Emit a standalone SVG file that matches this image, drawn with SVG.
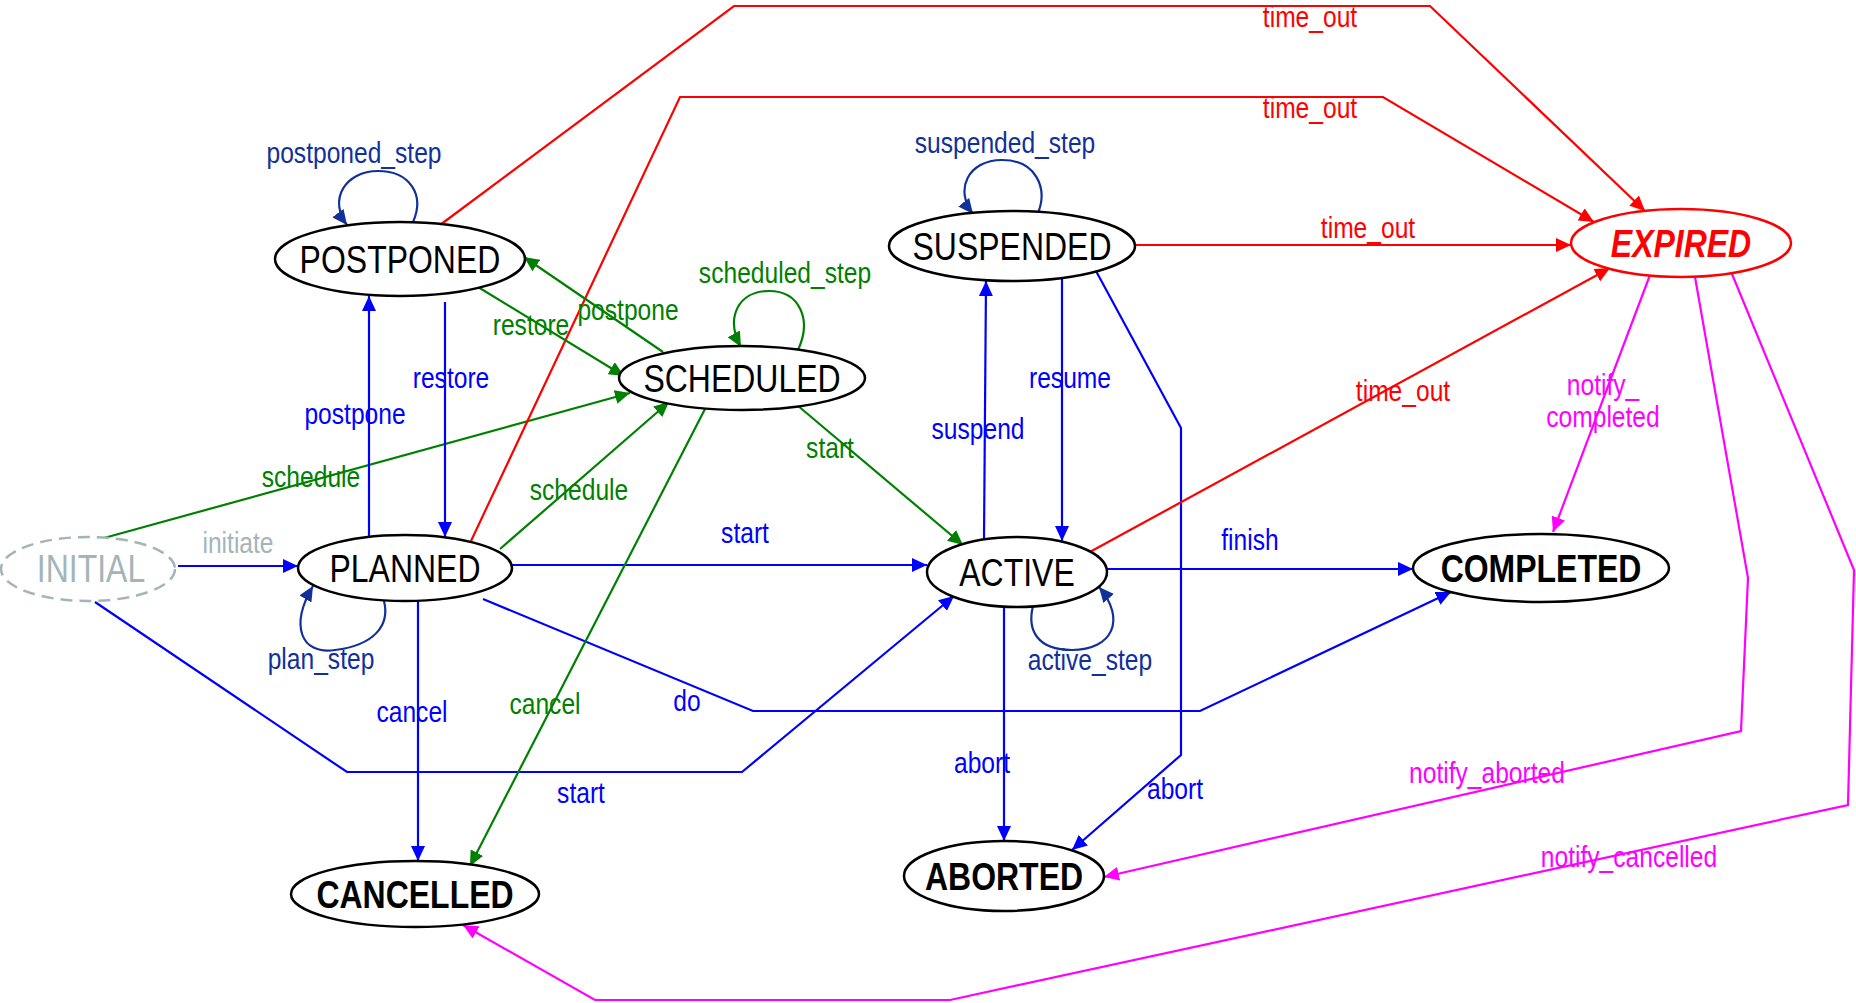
<svg xmlns="http://www.w3.org/2000/svg" width="1856" height="1003" viewBox="0 0 1856 1003">
<style>
.n ellipse{fill:#fff;stroke:#000;stroke-width:2.5}
.n text{font-family:"Liberation Sans",Arial,sans-serif;font-size:39px;text-anchor:middle;fill:#000}
.n text.bd{font-weight:bold}
.e path{fill:none;stroke-width:2.2}
.lb{font-family:"Liberation Sans",Arial,sans-serif;font-size:30px;text-anchor:middle}
.cb{stroke:#0000ff}.tb{fill:#0000ff}
.cg{stroke:#008000}.tg{fill:#008000}
.cr{stroke:#ff0000}.tr{fill:#ff0000}
.cm{stroke:#ff00ff}.tm{fill:#ff00ff}
.cn{stroke:#12309a}.tn{fill:#12309a}
.tgy{fill:#a3b5b8}
</style>
<defs>
<marker id="ab" viewBox="0 0 15 14" refX="15" refY="7" markerWidth="15" markerHeight="14" markerUnits="userSpaceOnUse" orient="auto"><path d="M0,0 L15,7 L0,14 z" fill="#0000ff"/></marker>
<marker id="ag" viewBox="0 0 15 14" refX="15" refY="7" markerWidth="15" markerHeight="14" markerUnits="userSpaceOnUse" orient="auto"><path d="M0,0 L15,7 L0,14 z" fill="#008000"/></marker>
<marker id="ar" viewBox="0 0 15 14" refX="15" refY="7" markerWidth="15" markerHeight="14" markerUnits="userSpaceOnUse" orient="auto"><path d="M0,0 L15,7 L0,14 z" fill="#ff0000"/></marker>
<marker id="am" viewBox="0 0 15 14" refX="15" refY="7" markerWidth="15" markerHeight="14" markerUnits="userSpaceOnUse" orient="auto"><path d="M0,0 L15,7 L0,14 z" fill="#ff00ff"/></marker>
<marker id="an" viewBox="0 0 15 14" refX="15" refY="7" markerWidth="15" markerHeight="14" markerUnits="userSpaceOnUse" orient="auto"><path d="M0,0 L15,7 L0,14 z" fill="#12309a"/></marker>
</defs>
<rect width="1856" height="1003" fill="#fff"/>
<g id="connectors" class="e">
<path class="cb" marker-end="url(#ab)" d="M178 566 L298 566"/>
<path class="cg" marker-end="url(#ag)" d="M104 538 L630 393"/>
<path class="cb" marker-end="url(#ab)" d="M95 602 L347 772 L742 772 L954 596"/>
<path class="cb" marker-end="url(#ab)" d="M369 537 L369 296"/>
<path class="cb" marker-end="url(#ab)" d="M445 302 L445 537"/>
<path class="cn" marker-end="url(#an)" d="M384 601 C390 625 375 645 335 650 C300 655 290 625 313 586"/>
<path class="cg" marker-end="url(#ag)" d="M500 549 L669 402"/>
<path class="cb" marker-end="url(#ab)" d="M512 565 L927 565"/>
<path class="cb" marker-end="url(#ab)" d="M483 599 L753 711 L1200 711 L1451 592"/>
<path class="cb" marker-end="url(#ab)" d="M418 601 L418 861"/>
<path class="cr" marker-end="url(#ar)" d="M471 541 L680 97 L1383 97 L1594 222"/>
<path class="cr" marker-end="url(#ar)" d="M440 225 L734 6 L1430 6 L1645 211"/>
<path class="cn" marker-end="url(#an)" d="M413 222 C425 195 410 171 378 171 C345 171 328 200 347 225"/>
<path class="cg" marker-end="url(#ag)" d="M478 287 L624 376"/>
<path class="cg" marker-end="url(#ag)" d="M663 352 L524 257"/>
<path class="cg" marker-end="url(#ag)" d="M798 350 C812 320 800 291 769 291 C738 291 725 318 741 347"/>
<path class="cg" marker-end="url(#ag)" d="M797 405 L963 545"/>
<path class="cg" marker-end="url(#ag)" d="M705 409 L470 866"/>
<path class="cb" marker-end="url(#ab)" d="M984 539 L986 281"/>
<path class="cb" marker-end="url(#ab)" d="M1062 279 L1062 541"/>
<path class="cb" marker-end="url(#ab)" d="M1096 271 L1181 428 L1181 755 L1072 850"/>
<path class="cr" marker-end="url(#ar)" d="M1135 245 L1571 245"/>
<path class="cn" marker-end="url(#an)" d="M1038 213 C1048 188 1036 160 1002 160 C968 160 954 190 973 214"/>
<path class="cb" marker-end="url(#ab)" d="M1107 569 L1413 569"/>
<path class="cb" marker-end="url(#ab)" d="M1004 607 L1004 841"/>
<path class="cn" marker-end="url(#an)" d="M1033 606 C1027 630 1037 650 1072 650 C1112 650 1127 620 1099 587"/>
<path class="cr" marker-end="url(#ar)" d="M1088 553 L1610 268"/>
<path class="cm" marker-end="url(#am)" d="M1650 275 L1553 532"/>
<path class="cm" marker-end="url(#am)" d="M1695 277 L1748 578 L1741 731 L1104 877"/>
<path class="cm" marker-end="url(#am)" d="M1732 274 L1854 570 L1848 805 L950 1000 L595 1000 L463 925"/>
</g>
<g id="edge-labels">
<text class="lb tgy" transform="translate(238,553) scale(0.82,1)">initiate</text>
<text class="lb tg" transform="translate(311,487) scale(0.82,1)">schedule</text>
<text class="lb tb" transform="translate(581,803) scale(0.82,1)">start</text>
<text class="lb tb" transform="translate(355,424) scale(0.82,1)">postpone</text>
<text class="lb tb" transform="translate(451,388) scale(0.82,1)">restore</text>
<text class="lb tn" transform="translate(321,669) scale(0.82,1)">plan_step</text>
<text class="lb tg" transform="translate(579,500) scale(0.82,1)">schedule</text>
<text class="lb tb" transform="translate(745,543) scale(0.82,1)">start</text>
<text class="lb tb" transform="translate(687,711) scale(0.82,1)">do</text>
<text class="lb tb" transform="translate(412,722) scale(0.82,1)">cancel</text>
<text class="lb tr" transform="translate(1310,118) scale(0.82,1)">time_out</text>
<text class="lb tr" transform="translate(1310,27) scale(0.82,1)">time_out</text>
<text class="lb tn" transform="translate(354,163) scale(0.82,1)">postponed_step</text>
<text class="lb tg" transform="translate(531,335) scale(0.82,1)">restore</text>
<text class="lb tg" transform="translate(628,320) scale(0.82,1)">postpone</text>
<text class="lb tg" transform="translate(785,283) scale(0.82,1)">scheduled_step</text>
<text class="lb tg" transform="translate(830,458) scale(0.82,1)">start</text>
<text class="lb tg" transform="translate(545,714) scale(0.82,1)">cancel</text>
<text class="lb tb" transform="translate(978,439) scale(0.82,1)">suspend</text>
<text class="lb tb" transform="translate(1070,388) scale(0.82,1)">resume</text>
<text class="lb tb" transform="translate(1175,799) scale(0.82,1)">abort</text>
<text class="lb tr" transform="translate(1368,238) scale(0.82,1)">time_out</text>
<text class="lb tn" transform="translate(1005,153) scale(0.82,1)">suspended_step</text>
<text class="lb tb" transform="translate(1250,550) scale(0.82,1)">finish</text>
<text class="lb tb" transform="translate(982,773) scale(0.82,1)">abort</text>
<text class="lb tn" transform="translate(1090,670) scale(0.82,1)">active_step</text>
<text class="lb tr" transform="translate(1403,401) scale(0.82,1)">time_out</text>
<text class="lb tm" transform="translate(1603,395) scale(0.82,1)">notify_</text>
<text class="lb tm" transform="translate(1603,427) scale(0.82,1)">completed</text>
<text class="lb tm" transform="translate(1487,783) scale(0.82,1)">notify_aborted</text>
<text class="lb tm" transform="translate(1629,867) scale(0.82,1)">notify_cancelled</text>
</g>
<g id="INITIAL" class="n"><ellipse cx="88" cy="569" rx="87" ry="32" style="stroke:#a3b5b8;stroke-dasharray:12 7"/><text transform="translate(91,582) scale(0.82,1)" style="fill:#a3b5b8">INITIAL</text></g>
<g id="PLANNED" class="n"><ellipse cx="405" cy="568" rx="107" ry="33"/><text transform="translate(405,582) scale(0.82,1)">PLANNED</text></g>
<g id="POSTPONED" class="n"><ellipse cx="400" cy="259" rx="125" ry="37"/><text transform="translate(400,273) scale(0.82,1)">POSTPONED</text></g>
<g id="SCHEDULED" class="n"><ellipse cx="742" cy="378" rx="123" ry="32"/><text transform="translate(742,392) scale(0.82,1)">SCHEDULED</text></g>
<g id="SUSPENDED" class="n"><ellipse cx="1012" cy="246" rx="123" ry="35"/><text transform="translate(1012,260) scale(0.82,1)">SUSPENDED</text></g>
<g id="ACTIVE" class="n"><ellipse cx="1017" cy="572" rx="90" ry="35"/><text transform="translate(1017,586) scale(0.82,1)">ACTIVE</text></g>
<g id="COMPLETED" class="n"><ellipse cx="1541" cy="568" rx="128" ry="34"/><text class="bd" transform="translate(1541,582) scale(0.82,1)">COMPLETED</text></g>
<g id="EXPIRED" class="n"><ellipse cx="1681" cy="243" rx="110" ry="34" style="stroke:#ff0000"/><text class="bd" transform="translate(1681,257) scale(0.82,1)" style="fill:#ff0000;font-style:italic">EXPIRED</text></g>
<g id="CANCELLED" class="n"><ellipse cx="415" cy="894" rx="124" ry="33"/><text class="bd" transform="translate(415,908) scale(0.82,1)">CANCELLED</text></g>
<g id="ABORTED" class="n"><ellipse cx="1004" cy="876" rx="100" ry="35"/><text class="bd" transform="translate(1004,890) scale(0.82,1)">ABORTED</text></g>
</svg>
